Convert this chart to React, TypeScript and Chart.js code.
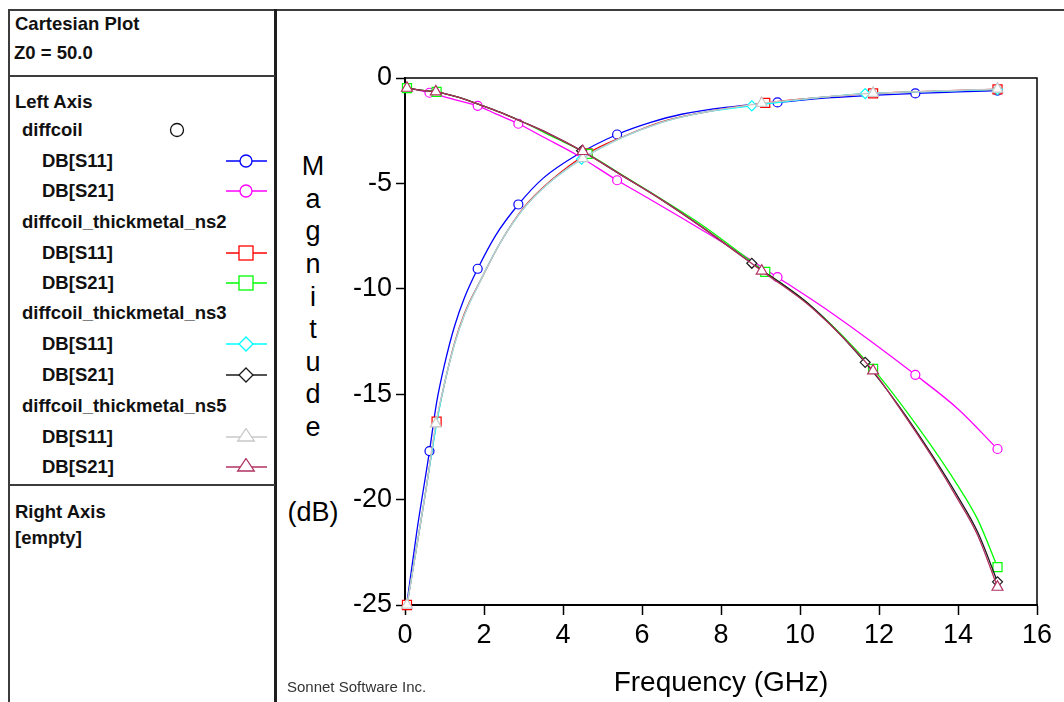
import React, { useEffect, useRef } from 'react';
import { Chart, registerables } from 'chart.js';

Chart.register(...registerables);

// ---------- data ----------
const FREQ_DIFFCOIL = [0.05, 0.3, 0.62, 0.8, 1.0, 1.25, 1.5, 1.84, 2.3, 2.87, 3.5, 4.35, 5.37, 6.2, 7.0, 8.2, 9.43, 10.8, 12.92, 14.0, 15.0];
const DIFFCOIL_S11 = [-24.9, -21.5, -17.7, -15.4, -13.6, -11.8, -10.45, -9.05, -7.45, -6.0, -4.75, -3.65, -2.68, -2.12, -1.72, -1.38, -1.16, -0.93, -0.73, -0.66, -0.6];
const DIFFCOIL_S21 = [-0.49, -0.56, -0.7, -0.8, -0.89, -1.02, -1.15, -1.32, -1.7, -2.17, -2.8, -3.65, -4.85, -5.75, -6.63, -7.98, -9.45, -11.15, -14.08, -15.7, -17.6];
const MARK_DIFFCOIL = [0.62, 1.84, 2.87, 5.37, 9.43, 12.92, 15.0];

const FREQ_NS2 = [0.05, 0.3, 0.5, 0.8, 1.0, 1.25, 1.5, 1.94, 2.4, 3.0, 3.7, 4.62, 5.5, 6.5, 7.5, 9.12, 10.3, 11.85, 13.0, 14.0, 14.5, 15.0];
const NS2_S11 = [-25.0, -22.2, -19.9, -16.3, -14.5, -12.6, -11.2, -9.5, -7.85, -6.16, -4.85, -3.58, -2.8, -2.08, -1.65, -1.18, -0.95, -0.73, -0.65, -0.59, -0.56, -0.54];
const NS2_S21 = [-0.48, -0.55, -0.6, -0.66, -0.74, -0.86, -1.0, -1.3, -1.62, -2.1, -2.75, -3.6, -4.6, -5.75, -6.95, -9.2, -10.85, -13.8, -16.6, -19.35, -20.95, -23.2];
const MARK_NS2 = [0.05, 0.8, 4.62, 9.12, 11.85, 15.0];

const FREQ_NS3 = [0.05, 0.3, 0.55, 0.8, 1.0, 1.25, 1.5, 1.9, 2.4, 3.0, 3.6, 4.47, 5.5, 6.5, 7.5, 8.78, 10.3, 11.65, 12.5, 13.37, 14.0, 14.5, 15.0];
const NS3_S11 = [-25.0, -22.2, -19.3, -16.4, -14.5, -12.65, -11.25, -9.65, -7.85, -6.2, -5.05, -3.85, -2.82, -2.1, -1.65, -1.32, -0.96, -0.74, -0.68, -0.63, -0.6, -0.57, -0.55];
const NS3_S21 = [-0.48, -0.55, -0.61, -0.66, -0.74, -0.86, -1.0, -1.27, -1.62, -2.1, -2.6, -3.45, -4.63, -5.78, -7.05, -8.79, -10.85, -13.49, -15.55, -17.96, -19.87, -21.55, -23.9];
const MARK_NS3 = [4.47, 8.78, 11.65, 15.0];

const FREQ_NS5 = [0.05, 0.3, 0.55, 0.78, 1.0, 1.25, 1.5, 1.9, 2.4, 3.0, 3.6, 4.5, 5.5, 6.5, 7.5, 9.03, 10.3, 11.85, 12.5, 13.37, 14.0, 14.5, 15.0];
const NS5_S11 = [-25.0, -22.2, -19.3, -16.4, -14.5, -12.65, -11.25, -9.65, -7.85, -6.2, -5.05, -3.82, -2.82, -2.1, -1.65, -1.2, -0.96, -0.72, -0.68, -0.62, -0.58, -0.55, -0.52];
const NS5_S21 = [-0.48, -0.55, -0.61, -0.65, -0.74, -0.86, -1.0, -1.27, -1.62, -2.1, -2.6, -3.48, -4.63, -5.78, -7.05, -9.15, -10.9, -13.89, -15.6, -18.05, -20.0, -21.7, -24.15];
const MARK_NS5 = [0.05, 0.78, 4.5, 9.03, 11.85, 15.0];

const X_TICKS = [0, 2, 4, 6, 8, 10, 12, 14, 16];
const Y_TICKS = [-25, -20, -15, -10, -5, 0];
const Y_TITLE_LETTERS = ['M', 'a', 'g', 'n', 'i', 't', 'u', 'd', 'e'];

const COLORS = {
  blue: '#0000ff',
  magenta: '#ff00ff',
  red: '#ff0000',
  green: '#00ff00',
  cyan: '#00ffff',
  black: '#1a1a1a',
  gray: '#c8c8c8',
  brown: '#b03060',
};

const FONT = '"Liberation Sans", Arial, sans-serif';

function makeDataset(label: string, freqs: number[], values: number[], marks: number[], color: string, pointStyle: string, radius: number, order: number) {
  return {
    label,
    data: freqs.map((f, i) => ({ x: f, y: values[i] })),
    borderColor: color,
    backgroundColor: '#ffffff',
    borderWidth: 1.3,
    pointStyle,
    pointRadius: freqs.map((f) => (marks.includes(f) ? radius : 0)),
    pointBorderColor: color,
    pointBackgroundColor: '#ffffff',
    pointBorderWidth: 1.2,
    cubicInterpolationMode: 'monotone',
    clip: false,
    order,
  };
}

const framePlugin = {
  id: 'plotFrame',
  afterDraw(chart: any) {
    const { ctx, chartArea: a } = chart;
    ctx.save();
    ctx.strokeStyle = '#000';
    ctx.lineWidth = 1.5;
    ctx.beginPath();
    ctx.moveTo(a.left, a.top);
    ctx.lineTo(a.right, a.top);
    ctx.lineTo(a.right, a.bottom);
    ctx.stroke();
    ctx.restore();
  },
};

function ChartCanvas() {
  const ref = useRef<HTMLCanvasElement>(null);
  useEffect(() => {
    if (!ref.current) return;
    const datasets = [
      makeDataset('diffcoil DB[S11]', FREQ_DIFFCOIL, DIFFCOIL_S11, MARK_DIFFCOIL, COLORS.blue, 'circle', 4.5, 7),
      makeDataset('diffcoil DB[S21]', FREQ_DIFFCOIL, DIFFCOIL_S21, MARK_DIFFCOIL, COLORS.magenta, 'circle', 4.5, 6),
      makeDataset('ns2 DB[S11]', FREQ_NS2, NS2_S11, MARK_NS2, COLORS.red, 'rect', 6.4, 5),
      makeDataset('ns2 DB[S21]', FREQ_NS2, NS2_S21, MARK_NS2, COLORS.green, 'rect', 6.4, 4),
      makeDataset('ns3 DB[S11]', FREQ_NS3, NS3_S11, MARK_NS3, COLORS.cyan, 'rectRot', 5, 3),
      makeDataset('ns3 DB[S21]', FREQ_NS3, NS3_S21, MARK_NS3, COLORS.black, 'rectRot', 5, 2),
      makeDataset('ns5 DB[S11]', FREQ_NS5, NS5_S11, MARK_NS5, COLORS.gray, 'triangle', 6.3, 1),
      makeDataset('ns5 DB[S21]', FREQ_NS5, NS5_S21, MARK_NS5, COLORS.brown, 'triangle', 6.3, 0),
    ];
    const chart = new Chart(ref.current, {
      type: 'line',
      data: { datasets } as any,
      options: {
        animation: false,
        responsive: false,
        devicePixelRatio: 1,
        events: [],
        layout: { padding: { left: 0, right: 27, top: 66, bottom: 0 } },
        plugins: { legend: { display: false }, tooltip: { enabled: false } },
        scales: {
          x: {
            type: 'linear',
            min: 0,
            max: 16,
            afterBuildTicks: (s: any) => { s.ticks = X_TICKS.map((v) => ({ value: v })); },
            afterFit: (s: any) => { s.height = 97; },
            ticks: { color: '#000', font: { family: FONT, size: 27 }, padding: 4, maxRotation: 0, callback: (v: any) => String(v) },
            grid: { drawOnChartArea: false, drawTicks: true, tickLength: 10, tickColor: '#000', tickWidth: 1.5 },
            border: { display: true, color: '#000', width: 2 },
            title: { display: true, text: 'Frequency (GHz)', color: '#000', font: { family: FONT, size: 28 }, padding: { top: 0, bottom: 2 } },
          },
          y: {
            type: 'linear',
            min: -25,
            max: 0,
            afterBuildTicks: (s: any) => { s.ticks = Y_TICKS.map((v) => ({ value: v })); },
            afterFit: (s: any) => { s.width = 127; },
            ticks: { color: '#000', font: { family: FONT, size: 27 }, padding: 4, callback: (v: any) => String(v) },
            grid: { drawOnChartArea: false, drawTicks: true, tickLength: 9, tickColor: '#000', tickWidth: 1.5 },
            border: { display: true, color: '#000', width: 2 },
          },
        },
      } as any,
      plugins: [framePlugin],
    });
    return () => chart.destroy();
  }, []);
  return <canvas ref={ref} width={786} height={690} style={{ position: 'absolute', left: 278, top: 12, width: 786, height: 690 }} />;
}

type Mk = 'circle' | 'rect' | 'diamond' | 'triangle';

function LegendIcon({ cy, color, mk }: { cy: number; color: string; mk: Mk }) {
  let marker: any = null;
  if (mk === 'circle') marker = <circle cx={22} cy={9} r={6} fill="#fff" stroke={color} strokeWidth={1.3} />;
  if (mk === 'rect') marker = <rect x={15} y={2} width={14} height={14} fill="#fff" stroke={color} strokeWidth={1.3} />;
  if (mk === 'diamond') marker = <polygon points="22,2 29,9 22,16 15,9" fill="#fff" stroke={color} strokeWidth={1.3} />;
  if (mk === 'triangle') marker = <polygon points="22,0.5 30.3,13 13.7,13" fill="#fff" stroke={color} strokeWidth={1.3} />;
  return (
    <svg width={46} height={18} style={{ position: 'absolute', left: 224, top: cy - 9 }}>
      <line x1={2} y1={9} x2={43} y2={9} stroke={color} strokeWidth={1.5} />
      {marker}
    </svg>
  );
}

const PANEL_ROWS: { text: string; x: number; cy: number }[] = [
  { text: 'Cartesian Plot', x: 15, cy: 24 },
  { text: 'Z0 = 50.0', x: 14, cy: 53 },
  { text: 'Left Axis', x: 15, cy: 102 },
  { text: 'diffcoil', x: 22, cy: 130 },
  { text: 'DB[S11]', x: 42, cy: 160.7 },
  { text: 'DB[S21]', x: 42, cy: 190.7 },
  { text: 'diffcoil_thickmetal_ns2', x: 22, cy: 221.7 },
  { text: 'DB[S11]', x: 42, cy: 252.7 },
  { text: 'DB[S21]', x: 42, cy: 282.7 },
  { text: 'diffcoil_thickmetal_ns3', x: 22, cy: 313.3 },
  { text: 'DB[S11]', x: 42, cy: 344.3 },
  { text: 'DB[S21]', x: 42, cy: 375 },
  { text: 'diffcoil_thickmetal_ns5', x: 22, cy: 405.7 },
  { text: 'DB[S11]', x: 42, cy: 436.7 },
  { text: 'DB[S21]', x: 42, cy: 466.7 },
  { text: 'Right Axis', x: 15, cy: 511.7 },
  { text: '[empty]', x: 15, cy: 537.5 },
];

const LEGEND_ICONS: { cy: number; color: string; mk: Mk }[] = [
  { cy: 160.7, color: COLORS.blue, mk: 'circle' },
  { cy: 190.7, color: COLORS.magenta, mk: 'circle' },
  { cy: 252.7, color: COLORS.red, mk: 'rect' },
  { cy: 282.7, color: COLORS.green, mk: 'rect' },
  { cy: 344.3, color: COLORS.cyan, mk: 'diamond' },
  { cy: 375, color: COLORS.black, mk: 'diamond' },
  { cy: 436.7, color: COLORS.gray, mk: 'triangle' },
  { cy: 466.7, color: COLORS.brown, mk: 'triangle' },
];

function Line({ l, t, w, h, c }: { l: number; t: number; w: number; h: number; c: string }) {
  return <div style={{ position: 'absolute', left: l, top: t, width: w, height: h, background: c }} />;
}

export default function App() {
  const letterFs = 27;
  return (
    <div style={{ position: 'absolute', left: 0, top: 0, width: 1064, height: 702, overflow: 'hidden', background: '#fff', fontFamily: FONT }}>
      {/* frame lines */}
      <Line l={8} t={9} w={1056} h={2} c="#3c3c3c" />
      <Line l={8} t={9} w={2} h={693} c="#3c3c3c" />
      <Line l={274} t={9} w={3} h={693} c="#1e1e1e" />
      <Line l={8} t={75} w={267} h={2} c="#3c3c3c" />
      <Line l={8} t={484} w={267} h={2} c="#3c3c3c" />

      {PANEL_ROWS.map((r, i) => (
        <div key={i} style={{ position: 'absolute', left: r.x, top: r.cy - 11, height: 22, lineHeight: '22px', fontSize: 18.5, fontWeight: 'bold', color: '#111', whiteSpace: 'nowrap' }}>
          {r.text}
        </div>
      ))}
      <svg width={20} height={20} style={{ position: 'absolute', left: 167, top: 120 }}>
        <circle cx={10} cy={10} r={6.5} fill="#fff" stroke="#111" strokeWidth={1.3} />
      </svg>
      {LEGEND_ICONS.map((ic, i) => (
        <LegendIcon key={i} cy={ic.cy} color={ic.color} mk={ic.mk} />
      ))}

      {/* y-axis title, stacked letters */}
      {Y_TITLE_LETTERS.map((ch, i) => (
        <div key={i} style={{ position: 'absolute', left: 293, width: 40, textAlign: 'center', top: 176 + 32.6 * i - 0.8465 * letterFs, height: letterFs, lineHeight: `${letterFs}px`, fontSize: letterFs, color: '#000' }}>
          {ch}
        </div>
      ))}
      <div style={{ position: 'absolute', left: 273, width: 80, textAlign: 'center', top: 522 - 0.8465 * letterFs, height: letterFs, lineHeight: `${letterFs}px`, fontSize: letterFs, color: '#000' }}>
        (dB)
      </div>

      <ChartCanvas />

      <div style={{ position: 'absolute', left: 287, top: 678, height: 18, lineHeight: '18px', fontSize: 15, color: '#333', whiteSpace: 'nowrap' }}>
        Sonnet Software Inc.
      </div>
    </div>
  );
}
